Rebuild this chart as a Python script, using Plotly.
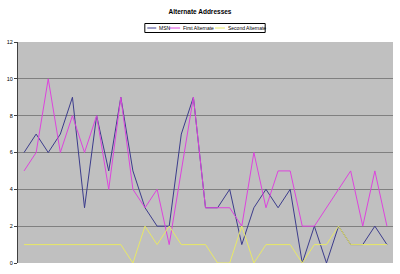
import plotly.graph_objects as go

categories = list(range(1, 32))
msn = [6, 7, 6, 7, 9, 3, 8, 5, 9, 5, 3, 2, 2, 7, 9, 3, 3, 4, 1, 3, 4, 3, 4, 0, 2, 0, 2, 1, 1, 2, 1]
first_alt = [5, 6, 10, 6, 8, 6, 8, 4, 9, 4, 3, 4, 1, 5, 9, 3, 3, 3, 2, 6, 3, 5, 5, 2, 2, 3, 4, 5, 2, 5, 2]
second_alt = [1, 1, 1, 1, 1, 1, 1, 1, 1, 0, 2, 1, 2, 1, 1, 1, 0, 0, 2, 0, 1, 1, 1, 0, 1, 1, 2, 1, 1, 1, 1]
y_ticks = [0, 2, 4, 6, 8, 10, 12]
series_names = ["MSN", "First Alternate", "Second Alternate"]
series_colors = ["#3c3c8c", "#dd44dd", "#e8e866"]

W, H = 400, 274
L, R, T, B = 16, 7, 42, 11
PW, PH = W - L - R, H - T - B


def px_x(p):
    return (p - L) / PW


def px_y(p):
    return (H - B - p) / PH


fig = go.Figure()
for name, vals, col in zip(series_names, [msn, first_alt, second_alt], series_colors):
    fig.add_trace(go.Scatter(x=categories, y=vals, mode="lines", name=name,
                             line=dict(color=col, width=1), showlegend=False))

# custom compact legend (Excel style)
shapes = [dict(type="rect", xref="paper", yref="paper",
               x0=px_x(143.5), x1=px_x(264.5), y0=px_y(32.5), y1=px_y(23.5),
               line=dict(color="black", width=1), fillcolor="white", layer="above")]
annotations = []
legend_line_x = [(146, 155), (168, 179), (214, 224)]
legend_y = 28
for (a, b), name, col in zip(legend_line_x, series_names, series_colors):
    shapes.append(dict(type="line", xref="paper", yref="paper",
                       x0=px_x(a), x1=px_x(b), y0=px_y(legend_y), y1=px_y(legend_y),
                       line=dict(color=col, width=1), layer="above"))
    annotations.append(dict(text=name, xref="paper", yref="paper", x=px_x(b + 1),
                            y=px_y(legend_y), xanchor="left", yanchor="middle",
                            showarrow=False, font=dict(size=5, color="black")))

fig.update_layout(
    width=W, height=H,
    margin=dict(l=L, r=R, t=T, b=B),
    paper_bgcolor="white",
    plot_bgcolor="#c0c0c0",
    font=dict(family="Liberation Sans, Arial, sans-serif", size=6, color="black"),
    title=dict(text="<b>Alternate Addresses</b>", x=0.5, xref="container", xanchor="center",
               y=1 - 12 / H, yref="container", yanchor="middle",
               font=dict(size=6.5, color="black")),
    showlegend=False,
    shapes=shapes,
    annotations=annotations,
    xaxis=dict(range=[0.5, 31.5], showticklabels=False, showgrid=False, zeroline=False,
               showline=False, ticks=""),
    yaxis=dict(range=[0, 12], tickvals=y_ticks, showgrid=True, gridcolor="#808080",
               gridwidth=1, zeroline=False, showline=True, linecolor="#404040", linewidth=1,
               ticks="outside", ticklen=3, tickcolor="#404040", tickfont=dict(size=5.5)),
)

fig.write_html("out.html")
